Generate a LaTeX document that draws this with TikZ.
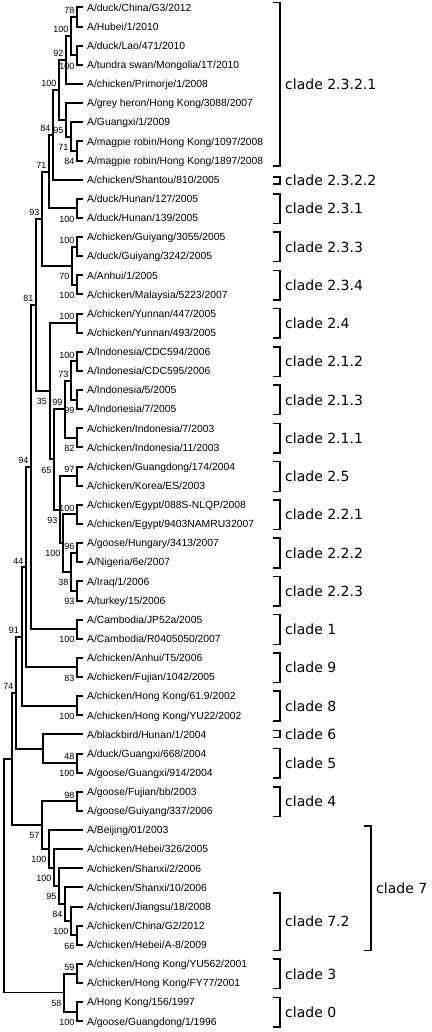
\documentclass[tikz,border=0pt]{standalone}
\usepackage{fontspec}
\setmainfont{Liberation Sans}
\newfontfamily\cladefont{DejaVu Sans}
\usetikzlibrary{calc}
\pgfdeclarelayer{bg}
\pgfsetlayers{bg,main}
\tikzset{
 tr/.style={line width=2pt, line join=miter},
 br/.style={line width=1.5pt, line join=miter},
 leaf/.style={anchor=base west, inner sep=0pt, font=\fontsize{10.35}{12}\selectfont},
 bsl/.style={anchor=base east, inner sep=0pt, font=\fontsize{9}{10}\selectfont},
 cl/.style={anchor=west, inner sep=0pt, font=\cladefont\fontsize{14}{16}\selectfont},
 declare function={ly(\i)=7.5+19.13*(\i-1);}
}
\newcommand\leaf[2]{\coordinate (l#1) at (83,{ly(#1)}); \node[leaf] (t#1) at (87,{ly(#1)+3.7}) {#2};}
\newcommand\inode[5][]{\path let \p1=(#4), \p2=(#5) in coordinate (#2) at ({#3pt},{(\y1+\y2)/2}); \draw[tr,#1] (#4) -| (#2) |- (#5);}
\newcommand\bsup[3]{\node[bsl] (b#1) at ([shift={(-2.5,-3.3)}]#2) {#3};}
\newcommand\bsdn[3]{\node[bsl] (b#1) at ([shift={(-2.5,13.7)}]#2) {#3};}
\newcommand\clbr[5]{\draw[br] ({#2-7},{#3}) -- ({#2},{#3}) -- ({#2},{#4}) -- ({#2-7},{#4});
 \node[cl] (c#1) at ({#2+5},{(#3+#4)/2}) {#5};}
\begin{document}
\begin{tikzpicture}[x=1pt,y=-1pt]
\useasboundingbox (0,0) rectangle (431,1032);
\leaf{1}{A/duck/China/G3/2012}
\leaf{2}{A/Hubei/1/2010}
\leaf{3}{A/duck/Lao/471/2010}
\leaf{4}{A/tundra swan/Mongolia/1T/2010}
\leaf{5}{A/chicken/Primorje/1/2008}
\leaf{6}{A/grey heron/Hong Kong/3088/2007}
\leaf{7}{A/Guangxi/1/2009}
\leaf{8}{A/magpie robin/Hong Kong/1097/2008}
\leaf{9}{A/magpie robin/Hong Kong/1897/2008}
\leaf{10}{A/chicken/Shantou/810/2005}
\leaf{11}{A/duck/Hunan/127/2005}
\leaf{12}{A/duck/Hunan/139/2005}
\leaf{13}{A/chicken/Guiyang/3055/2005}
\leaf{14}{A/duck/Guiyang/3242/2005}
\leaf{15}{A/Anhui/1/2005}
\leaf{16}{A/chicken/Malaysia/5223/2007}
\leaf{17}{A/chicken/Yunnan/447/2005}
\leaf{18}{A/chicken/Yunnan/493/2005}
\leaf{19}{A/Indonesia/CDC594/2006}
\leaf{20}{A/Indonesia/CDC595/2006}
\leaf{21}{A/Indonesia/5/2005}
\leaf{22}{A/Indonesia/7/2005}
\leaf{23}{A/chicken/Indonesia/7/2003}
\leaf{24}{A/chicken/Indonesia/11/2003}
\leaf{25}{A/chicken/Guangdong/174/2004}
\leaf{26}{A/chicken/Korea/ES/2003}
\leaf{27}{A/chicken/Egypt/088S-NLQP/2008}
\leaf{28}{A/chicken/Egypt/9403NAMRU32007}
\leaf{29}{A/goose/Hungary/3413/2007}
\leaf{30}{A/Nigeria/6e/2007}
\leaf{31}{A/Iraq/1/2006}
\leaf{32}{A/turkey/15/2006}
\leaf{33}{A/Cambodia/JP52a/2005}
\leaf{34}{A/Cambodia/R0405050/2007}
\leaf{35}{A/chicken/Anhui/T5/2006}
\leaf{36}{A/chicken/Fujian/1042/2005}
\leaf{37}{A/chicken/Hong Kong/61.9/2002}
\leaf{38}{A/chicken/Hong Kong/YU22/2002}
\leaf{39}{A/blackbird/Hunan/1/2004}
\leaf{40}{A/duck/Guangxi/668/2004}
\leaf{41}{A/goose/Guangxi/914/2004}
\leaf{42}{A/goose/Fujian/bb/2003}
\leaf{43}{A/goose/Guiyang/337/2006}
\leaf{44}{A/Beijing/01/2003}
\leaf{45}{A/chicken/Hebei/326/2005}
\leaf{46}{A/chicken/Shanxi/2/2006}
\leaf{47}{A/chicken/Shanxi/10/2006}
\leaf{48}{A/chicken/Jiangsu/18/2008}
\leaf{49}{A/chicken/China/G2/2012}
\leaf{50}{A/chicken/Hebei/A-8/2009}
\leaf{51}{A/chicken/Hong Kong/YU562/2001}
\leaf{52}{A/chicken/Hong Kong/FY77/2001}
\leaf{53}{A/Hong Kong/156/1997}
\leaf{54}{A/goose/Guangdong/1/1996}
% tree
\inode{a12}{77}{l1}{l2}
\inode{a34}{77}{l3}{l4}
\inode{a1234}{71}{a12}{a34}
\inode{a15}{66}{a1234}{l5}
\inode{a89}{77}{l8}{l9}
\inode{a789}{71}{l7}{a89}
\inode{a69}{66}{l6}{a789}
\inode{n2321}{59}{a15}{a69}
\inode{n232}{53}{n2321}{l10}
\inode{n231}{77}{l11}{l12}
\inode{n23}{49}{n232}{n231}
\inode{n233}{77}{l13}{l14}
\inode{n234}{77}{l15}{l16}
\inode{n2334}{72}{n233}{n234}
\inode{N93}{42}{n23}{n2334}
\inode{n24}{77}{l17}{l18}
\inode{n212}{77}{l19}{l20}
\inode{n213}{77}{l21}{l22}
\inode{n2123}{71}{n212}{n213}
\inode{n211}{77}{l23}{l24}
\inode{n21}{65}{n2123}{n211}
\inode{n25}{77}{l25}{l26}
\inode{n221}{77}{l27}{l28}
\inode{n222}{77}{l29}{l30}
\inode{n223}{77}{l31}{l32}
\inode{n2223}{71}{n222}{n223}
\inode{n22}{63}{n221}{n2223}
\inode{n2522}{60}{n25}{n22}
\inode{nA}{54}{n21}{n2522}
\inode{n2x}{49.5}{n24}{nA}
\inode{N81}{36}{N93}{n2x}
\inode{cl1}{77}{l33}{l34}
\inode{N94}{31}{N81}{cl1}
\inode{cl9}{77}{l35}{l36}
\inode{N44}{26}{N94}{cl9}
\inode{cl8}{77}{l37}{l38}
\inode{N91}{21.5}{N44}{cl8}
\inode{cl5}{77}{l40}{l41}
\inode{c56}{43}{l39}{cl5}
\inode{N74}{16}{N91}{c56}
\inode{cl4}{77}{l42}{l43}
\inode{c72b}{77}{l49}{l50}
\inode{c72}{71}{l48}{c72b}
\inode{c7c}{65}{l47}{c72}
\inode{c7b}{59}{l46}{c7c}
\inode{c7a}{54}{l45}{c7b}
\inode{c7}{49}{l44}{c7a}
\inode{cl47}{42}{cl4}{c7}
\inode{Nu}{12}{N74}{cl47}
\inode{cl3}{77}{l51}{l52}
\inode{cl0}{77}{l53}{l54}
\inode{n30}{64}{cl3}{cl0}
\inode[line width=1.2pt]{R}{4}{Nu}{n30}
% bootstrap values
\begin{pgfonlayer}{bg}
\bsup{a12}{a12}{78}
\bsdn{a34}{a34}{100}
\bsup{a1234}{a1234}{100}
\bsup{a15}{a15}{92}
\bsdn{a69}{a69}{95}
\bsdn{a789}{a789}{71}
\bsdn{a89}{a89}{84}
\bsup{n2321}{n2321}{100}
\bsup{n232}{n232}{84}
\bsup{n23}{n23}{71}
\bsdn{n231}{n231}{100}
\bsup{N93}{N93}{93}
\bsup{n233}{n233}{100}
\bsdn{n2334}{n2334}{70}
\bsdn{n234}{n234}{100}
\bsup{N81}{N81}{81}
\bsup{n24}{n24}{100}
\bsdn{n2x}{n2x}{35}
\bsup{n212}{n212}{100}
\bsup{n2123}{n2123}{73}
\bsdn{n213}{n213}{99}
\bsup{n21}{n21}{99}
\bsdn{n211}{n211}{82}
\bsup{N94}{N94}{94}
\bsdn{nA}{nA}{65}
\bsup{n25}{n25}{97}
\bsdn{n2522}{n2522}{93}
\bsup{n221}{n221}{100}
\bsup{n222}{n222}{96}
\bsdn{n22}{n22}{100}
\bsdn{n2223}{n2223}{38}
\bsdn{n223}{n223}{93}
\bsup{N44}{N44}{44}
\bsup{N91}{N91}{91}
\bsdn{cl1}{cl1}{100}
\bsdn{cl9}{cl9}{83}
\bsup{N74}{N74}{74}
\bsdn{cl8}{cl8}{100}
\bsup{cl5u}{cl5}{48}
\bsdn{cl5}{cl5}{100}
\bsup{cl4}{cl4}{98}
\bsdn{cl47}{cl47}{57}
\bsdn{c7}{c7}{100}
\bsdn{c7a}{c7a}{100}
\bsdn{c7b}{c7b}{95}
\bsdn{c7c}{c7c}{84}
\bsdn{c72}{c72}{100}
\bsdn{c72b}{c72b}{66}
\bsup{cl3}{cl3}{59}
\bsdn{n30}{n30}{58}
\bsdn{cl0}{cl0}{100}
\end{pgfonlayer}
% clade brackets
\clbr{2321}{280}{ly(1)-5}{ly(9)+5.5}{clade 2.3.2.1}
\clbr{2322}{280}{ly(10)-2.5}{ly(10)+4.5}{clade 2.3.2.2}
\clbr{231}{280}{ly(11)-5}{ly(12)+5.5}{clade 2.3.1}
\clbr{233}{280}{ly(13)-5}{ly(14)+5.5}{clade 2.3.3}
\clbr{234}{280}{ly(15)-5}{ly(16)+5.5}{clade 2.3.4}
\clbr{24}{280}{ly(17)-5}{ly(18)+5.5}{clade 2.4}
\clbr{212}{280}{ly(19)-5}{ly(20)+5.5}{clade 2.1.2}
\clbr{213}{280}{ly(21)-5}{ly(22)+5.5}{clade 2.1.3}
\clbr{211}{280}{ly(23)-5}{ly(24)+5.5}{clade 2.1.1}
\clbr{25}{280}{ly(25)-5}{ly(26)+5.5}{clade 2.5}
\clbr{221}{280}{ly(27)-5}{ly(28)+5.5}{clade 2.2.1}
\clbr{222}{280}{ly(29)-5}{ly(30)+5.5}{clade 2.2.2}
\clbr{223}{280}{ly(31)-5}{ly(32)+5.5}{clade 2.2.3}
\clbr{1}{280}{ly(33)-5}{ly(34)+5.5}{clade 1}
\clbr{9}{280}{ly(35)-5}{ly(36)+5.5}{clade 9}
\clbr{8}{280}{ly(37)-5}{ly(38)+5.5}{clade 8}
\clbr{6}{280}{ly(39)-4}{ly(39)+3}{clade 6}
\clbr{5}{280}{ly(40)-5}{ly(41)+5.5}{clade 5}
\clbr{4}{280}{ly(42)-5}{ly(43)+5.5}{clade 4}
\clbr{72}{280}{893}{ly(50)+5.5}{clade 7.2}
\clbr{7}{371}{ly(44)-4}{ly(50)+5.5}{clade 7}
\clbr{3}{280}{ly(51)-5}{ly(52)+5.5}{clade 3}
\clbr{0}{280}{ly(53)-5}{ly(54)+5.5}{clade 0}
\end{tikzpicture}
\end{document}
